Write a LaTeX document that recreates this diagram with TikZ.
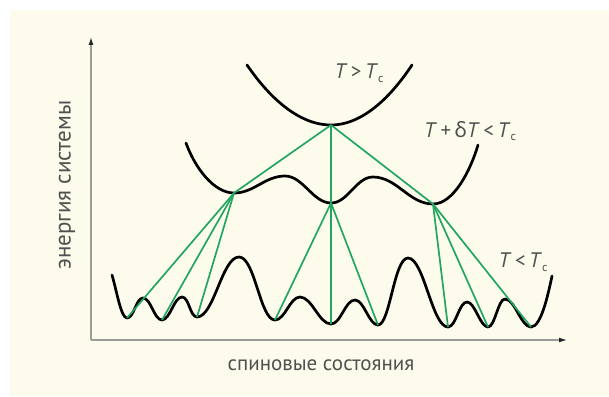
\documentclass[tikz,border=0pt]{standalone}
\usepackage{fontspec}
\setmainfont{PT Sans}
\newfontfamily\grkfont{Noto Sans}
\usetikzlibrary{arrows.meta}
\definecolor{cream}{RGB}{253,251,235}
\definecolor{axisgray}{RGB}{155,155,155}
\definecolor{textgray}{RGB}{80,80,80}
\definecolor{linkgreen}{RGB}{34,166,98}
\newcommand{\Tc}{\textit{T}\raisebox{-0.35ex}{\fontsize{12pt}{12pt}\selectfont c}}
\tikzset{
    curve/.style={line width=2.7pt, black, line cap=round, line join=round},
    link/.style={line width=1.7pt, linkgreen},
    axis/.style={line width=1.2pt, axisgray, -{Latex[length=8pt,width=5pt,color=black!85]}},
    lbl/.style={font=\fontsize{21pt}{24pt}\selectfont, text=textgray, inner sep=0pt}
}
\begin{document}
\begin{tikzpicture}[x=1pt, y=-1pt]
    % рамка и фон
    \useasboundingbox (0,0) rectangle (609,396);
    \fill[cream] (10,10) rectangle (609,396);

    % оси
    \coordinate (origin) at (91,340);
    \coordinate (ytop) at (91,37);
    \coordinate (xend) at (567,340);
    \draw[axis] (origin) -- (ytop);
    \draw[axis] (origin) -- (xend);

    % минимумы (T > Tc)
    \coordinate (top) at (331,125);
    % минимумы (T + dT < Tc)
    \coordinate (midL) at (234,193);
    \coordinate (midC) at (331,203);
    \coordinate (midR) at (433,204);
    % минимумы (T < Tc)
    \coordinate (low1) at (127,318);
    \coordinate (low2) at (162,320);
    \coordinate (low3) at (197,317);
    \coordinate (low4) at (275,320);
    \coordinate (low5) at (331,324);
    \coordinate (low6) at (378,325);
    \coordinate (low7) at (448,327);
    \coordinate (low8) at (488,327);
    \coordinate (low9) at (531,327);

    % верхняя парабола
    \draw[curve] (247,65) parabola bend (top) (412,65);

    % средняя кривая
    \draw[curve] (186,143) .. controls (195,168) and (214,193) .. (midL)
        .. controls (254,193) and (265,176) .. (285,176)
        .. controls (303,176) and (313,203) .. (midC)
        .. controls (348,203) and (356,177) .. (373,177)
        .. controls (397,177) and (409,204) .. (midR)
        .. controls (453,204) and (470,172) .. (478,145);

    % нижняя кривая
    \draw[curve] (112,275) .. controls (117,292) and (121,318) .. (low1)
        .. controls (134,318) and (136,298) .. (143,298)
        .. controls (151,298) and (154,320) .. (low2)
        .. controls (170,320) and (174,297) .. (182,297)
        .. controls (189,297) and (190,317) .. (low3)
        .. controls (214,317) and (222,257) .. (239,257)
        .. controls (255,257) and (260,320) .. (low4)
        .. controls (285,320) and (290,297) .. (300,297)
        .. controls (312,297) and (319,324) .. (low5)
        .. controls (341,324) and (345,300) .. (355,300)
        .. controls (364,300) and (369,325) .. (low6)
        .. controls (390,325) and (394,258) .. (408,258)
        .. controls (424,258) and (432,327) .. (low7)
        .. controls (456,327) and (459,302) .. (467,302)
        .. controls (475,302) and (480,327) .. (low8)
        .. controls (495,327) and (498,299) .. (505,299)
        .. controls (515,299) and (521,327) .. (low9)
        .. controls (541,327) and (548,295) .. (552,276);

    % связи между минимумами
    \foreach \m in {midL,midC,midR} \draw[link] (top) -- (\m);
    \foreach \m in {low1,low2,low3} \draw[link] (midL) -- (\m);
    \foreach \m in {low4,low5,low6} \draw[link] (midC) -- (\m);
    \foreach \m in {low7,low8,low9} \draw[link] (midR) -- (\m);

    % подписи
    \node[lbl] (lblhigh) at (359,73) {\textit{T}\,>\,\Tc};
    \node[lbl] (lblmid) at (470,131) {\textit{T}\,+\,{\grkfont δ}\textit{T}\,<\,\Tc};
    \node[lbl] (lbllow) at (523,262) {\textit{T}\,<\,\Tc};
    \node[lbl] (xlabel) at (321,365) {спиновые состояния};
    \node[lbl, font=\fontsize{23pt}{26pt}\selectfont, rotate=90] (ylabel) at (67,185) {энергия системы};
\end{tikzpicture}
\end{document}
